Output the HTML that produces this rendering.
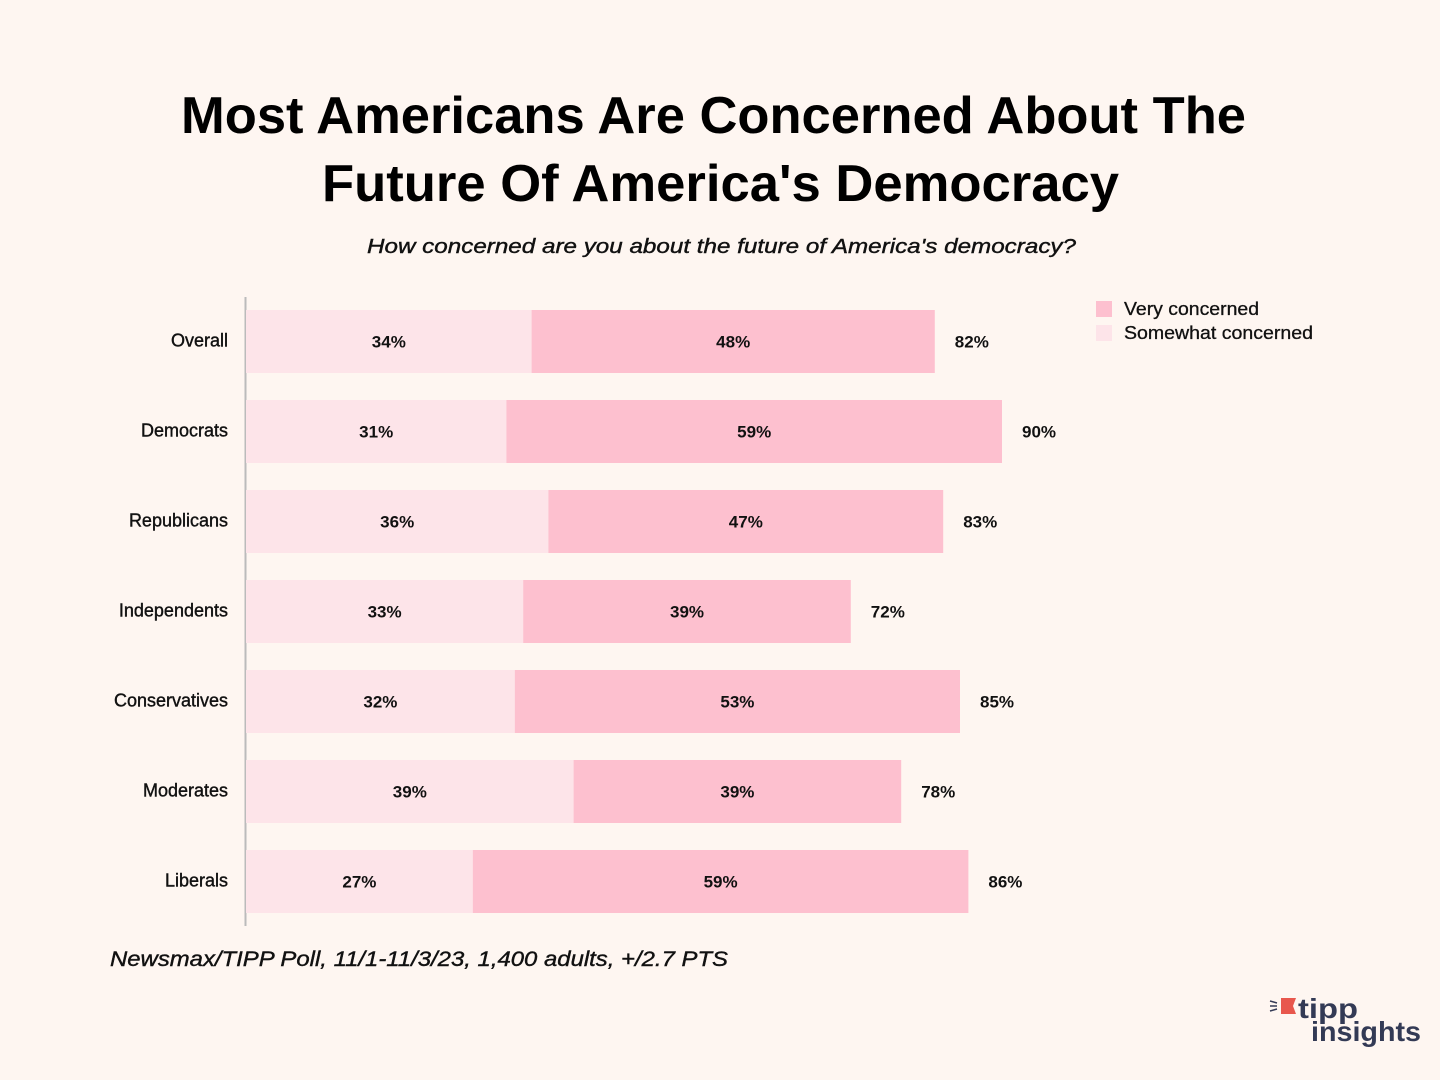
<!DOCTYPE html>
<html><head><meta charset="utf-8"><style>
body{margin:0;background:#fef6f1;font-family:"Liberation Sans",sans-serif;}
#wrap{position:relative;width:1440px;height:1080px;overflow:hidden;background:#fef6f1;}
</style></head><body>
<div id="wrap">
<svg id="chart" width="1440" height="1080">
<text x="181" y="133" textLength="1065" lengthAdjust="spacingAndGlyphs" font-size="52" font-weight="bold" fill="#000">Most Americans Are Concerned About The</text>
<text x="322" y="201" textLength="797" lengthAdjust="spacingAndGlyphs" font-size="52" font-weight="bold" fill="#000">Future Of America's Democracy</text>
<text x="367" y="253" textLength="709" lengthAdjust="spacingAndGlyphs" font-size="20" font-style="italic" fill="#111" stroke="#111" stroke-width="0.4">How concerned are you about the future of America's democracy?</text>
<line x1="245.5" y1="297" x2="245.5" y2="926" stroke="#bbb" stroke-width="2"/>
<g id="bars"></g>
<rect x="1096" y="301" width="16" height="16" fill="#fdc0cf"/>
<text x="1124" y="315" textLength="135" lengthAdjust="spacingAndGlyphs" font-size="18" fill="#111" stroke="#111" stroke-width="0.3">Very concerned</text>
<rect x="1096" y="325" width="16" height="16" fill="#fde4e9"/>
<text x="1124" y="339" textLength="189" lengthAdjust="spacingAndGlyphs" font-size="18" fill="#111" stroke="#111" stroke-width="0.3">Somewhat concerned</text>
<text x="110" y="966" textLength="618" lengthAdjust="spacingAndGlyphs" font-size="21" font-style="italic" fill="#111" stroke="#111" stroke-width="0.4">Newsmax/TIPP Poll, 11/1-11/3/23, 1,400 adults, +/2.7 PTS</text>
<g>
<polygon points="1281,998 1296,998 1293,1006 1296,1014 1281,1014" fill="#e8574d"/>
<line x1="1270" y1="1001" x2="1277" y2="1003" stroke="#333a55" stroke-width="1.5"/>
<line x1="1270" y1="1006" x2="1277" y2="1006" stroke="#333a55" stroke-width="1.5"/>
<line x1="1270" y1="1011" x2="1277" y2="1009" stroke="#333a55" stroke-width="1.5"/>
<text x="1298" y="1018" textLength="60" lengthAdjust="spacingAndGlyphs" font-size="28" font-weight="bold" fill="#333a55">tipp</text>
<text x="1311" y="1041" textLength="110" lengthAdjust="spacingAndGlyphs" font-size="28" font-weight="bold" fill="#333a55">insights</text>
</g>
</svg>
</div>
<script>
const categories=["Overall","Democrats","Republicans","Independents","Conservatives","Moderates","Liberals"];
const somewhat=[34,31,36,33,32,39,27];
const very=[48,59,47,39,53,39,59];
const totals=[82,90,83,72,85,78,86];
const NS="http://www.w3.org/2000/svg";
const x0=246, pxPer=8.4, yTop=310, pitch=90, barH=63;
const xs=v=>x0+v*pxPer;
const ys=i=>yTop+i*pitch;
const g=document.getElementById('bars');
function mk(tag,attrs){const e=document.createElementNS(NS,tag);for(const k in attrs)e.setAttribute(k,attrs[k]);return e;}
categories.forEach((c,i)=>{
  const y=ys(i);
  const r1=mk('rect',{x:xs(0),y:y,width:xs(somewhat[i])-xs(0),height:barH,fill:'#fde4e9'});
  
  
  g.appendChild(r1);
  const r2=mk('rect',{x:xs(somewhat[i]),y:y,width:xs(somewhat[i]+very[i])-xs(somewhat[i]),height:barH,fill:'#fdc0cf'});
  
  
  g.appendChild(r2);
  const lab=mk('text',{x:228,y:y+barH/2+5,'text-anchor':'end','font-size':18,fill:'#111',stroke:'#111','stroke-width':0.4});
  lab.textContent=c;
  
  
  g.appendChild(lab);
  const t1=mk('text',{x:(xs(0)+xs(somewhat[i]))/2,y:y+barH/2+6,'text-anchor':'middle','font-size':17,'font-weight':'bold',fill:'#111'});
  t1.textContent=somewhat[i]+'%';
  
  
  g.appendChild(t1);
  const t2=mk('text',{x:(xs(somewhat[i])+xs(somewhat[i]+very[i]))/2,y:y+barH/2+6,'text-anchor':'middle','font-size':17,'font-weight':'bold',fill:'#111'});
  t2.textContent=very[i]+'%';
  
  
  g.appendChild(t2);
  const t3=mk('text',{x:xs(somewhat[i]+very[i])+20,y:y+barH/2+6,'font-size':17,'font-weight':'bold',fill:'#111'});
  t3.textContent=totals[i]+'%';
  
  
  g.appendChild(t3);
});
</script>
</body></html>
